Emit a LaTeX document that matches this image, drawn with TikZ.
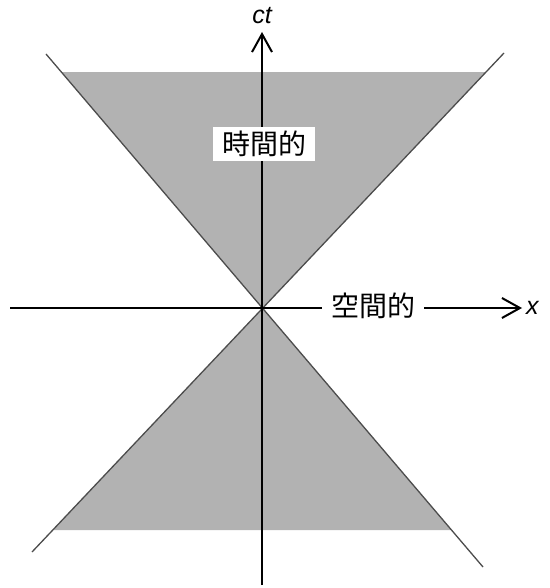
\documentclass[tikz,border=0pt]{standalone}
\usepackage{fontspec}
\newfontfamily\jpfont{Noto Sans CJK JP}
\newfontfamily\axisfont{Liberation Sans}
\usetikzlibrary{arrows.meta,calc,positioning}

\tikzset{
	axis/.style={line width=2pt, -{Straight Barb[length=18pt,width=20pt]}},
	cone/.style={line width=1.3pt, black!70},
	region/.style={fill=black!30},
	zonelabel/.style={font=\jpfont\fontsize{28}{30}\selectfont, fill=white, inner xsep=9pt, inner ysep=4pt},
	axislabel/.style={font=\axisfont\itshape\fontsize{25}{28}\selectfont, inner sep=1pt}
}

\begin{document}
\begin{tikzpicture}[x=1pt, y=-1pt]
	
	\fill[white] (0,0) rectangle (549,588);
	\useasboundingbox (0,0) rectangle (549,588);
	
	% light cone lines
	\coordinate (ul) at (46,54);
	\coordinate (lr) at (483,567);
	\coordinate (ur) at (504,53);
	\coordinate (ll) at (32,552);
	\coordinate (apex) at (intersection of ul--lr and ur--ll);
	
	% top and bottom edges of the shading
	\coordinate (topL) at (intersection of ul--lr and 0,72--549,72);
	\coordinate (topR) at (intersection of ur--ll and 0,72--549,72);
	\coordinate (botL) at (intersection of ur--ll and 0,530--549,530);
	\coordinate (botR) at (intersection of ul--lr and 0,530--549,530);
	
	\fill[region] (apex) -- (topL) -- (topR) -- cycle;
	\fill[region] (apex) -- (botL) -- (botR) -- cycle;
	
	\draw[cone] (ul) -- (lr);
	\draw[cone] (ur) -- (ll);
	
	% axes
	\coordinate (xstart) at (10,308);
	\coordinate (xend) at (522,308);
	\coordinate (tstart) at (262,585);
	\coordinate (tend) at (262,32);
	
	\draw[axis] (xstart) -- (xend);
	\draw[axis] (tstart) -- (tend);
	
	\node[axislabel] (ct) at (262,16) {ct};
	\node[axislabel, right=3pt of xend] (xlab) {x};
	
	% regions
	\node[zonelabel] (timelike) at (264,144) {時間的};
	\node[zonelabel] (spacelike) at (373,306) {空間的};
	
\end{tikzpicture}
\end{document}
